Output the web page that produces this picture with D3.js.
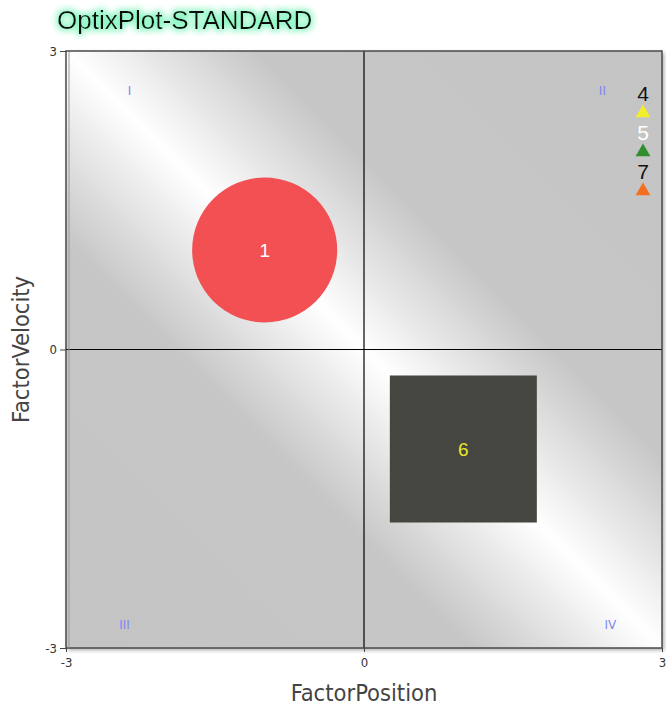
<!DOCTYPE html>
<html>
<head>
<meta charset="UTF-8">
<title>OptixPlot-STANDARD</title>
<script src="https://cdnjs.cloudflare.com/ajax/libs/d3/7.8.5/d3.min.js"></script>
<style>
  body { margin: 0; background: #fff; }
  svg { display: block; }
</style>
</head>
<body>
<svg id="chart" width="666" height="707"></svg>
<script>
// axis domain and ticks
var xDomain = [-3, 3];
var yDomain = [-3, 3];
var xTicks = [-3, 0, 3];
var yTicks = [-3, 0, 3];

// quadrant labels, placed at data coordinates
var quadNames = ["I", "II", "III", "IV"];
var quadX = [-2.36, 2.4, -2.41, 2.48];
var quadY = [2.56, 2.56, -2.81, -2.81];

// bubbles inside the plot
var bubbleIds = ["1", "6"];
var bubbleX = [-1.0, 1.0];
var bubbleY = [1.0, -1.0];
var bubbleSize = [0.73, 0.74];   // radius / half side, in data units
var bubbleShape = ["circle", "square"];
var bubbleColor = ["#f24a4c", "#45463f"];
var bubbleLabelColor = ["#ffffff", "#e8e82a"];

// items that fall off the right edge
var offIds = ["4", "5", "7"];
var offColor = ["#f2ee2c", "#2f8f2f", "#f27020"];
var offLabelColor = ["#111111", "#ffffff", "#111111"];

var svg = d3.select("#chart");
var margin = {left: 66, top: 51, right: 4, bottom: 59};
var W = 666 - margin.left - margin.right;
var H = 707 - margin.top - margin.bottom;

var x = d3.scaleLinear().domain(xDomain).range([0, W]);
var y = d3.scaleLinear().domain(yDomain).range([H, 0]);

var defs = svg.append("defs");

// diagonal white band background
var grad = defs.append("linearGradient")
    .attr("id", "bg").attr("gradientUnits", "objectBoundingBox")
    .attr("x1", 1).attr("y1", 0).attr("x2", 0).attr("y2", 1);
[[0, "#c4c4c4"], [0.34, "#c6c6c6"], [0.5, "#ffffff"], [0.66, "#c6c6c6"], [1, "#c4c4c4"]]
    .forEach(function(s) { grad.append("stop").attr("offset", s[0]).attr("stop-color", s[1]); });

var glow = defs.append("filter").attr("id", "glow")
    .attr("x", "-20%").attr("y", "-60%").attr("width", "140%").attr("height", "220%");
glow.append("feMorphology").attr("in", "SourceAlpha").attr("operator", "dilate").attr("radius", 2).attr("result", "d");
glow.append("feGaussianBlur").attr("in", "d").attr("stdDeviation", 3).attr("result", "b");
glow.append("feFlood").attr("flood-color", "#8ef7c4");
glow.append("feComposite").attr("in2", "b").attr("operator", "in").attr("result", "g");
var gm = glow.append("feMerge");
gm.append("feMergeNode").attr("in", "g");
gm.append("feMergeNode").attr("in", "SourceGraphic");

var shadow = defs.append("filter").attr("id", "shadow")
    .attr("x", "-5%").attr("y", "-5%").attr("width", "110%").attr("height", "110%");
shadow.append("feDropShadow").attr("dx", 2).attr("dy", 2).attr("stdDeviation", 2)
    .attr("flood-color", "#000").attr("flood-opacity", 0.35);

defs.append("clipPath").attr("id", "clip")
    .append("rect").attr("width", W).attr("height", H);

// title
svg.append("text")
    .attr("x", 57).attr("y", 29)
    .attr("font-family", "Liberation Sans, Arial, sans-serif")
    .attr("font-size", 26).attr("fill", "#111")
    .attr("filter", "url(#glow)")
    .text("OptixPlot-STANDARD");

var g = svg.append("g").attr("transform", "translate(" + margin.left + "," + margin.top + ")");

g.append("rect").attr("width", W).attr("height", H)
    .attr("fill", "url(#bg)").attr("filter", "url(#shadow)");

var plot = g.append("g").attr("clip-path", "url(#clip)");

// zero lines
plot.append("line").attr("x1", x(0)).attr("x2", x(0)).attr("y1", 0).attr("y2", H)
    .attr("stroke", "#000").attr("stroke-width", 1.2);
plot.append("line").attr("x1", 0).attr("x2", W).attr("y1", y(0)).attr("y2", y(0))
    .attr("stroke", "#000").attr("stroke-width", 1.2);

// quadrant labels
quadNames.forEach(function(q, i) {
    plot.append("text")
        .attr("x", x(quadX[i])).attr("y", y(quadY[i]))
        .attr("text-anchor", "middle")
        .attr("font-family", "DejaVu Sans, Verdana, sans-serif")
        .attr("font-size", 12).attr("fill", "#7f86f2")
        .text(q);
});

// bubbles
bubbleIds.forEach(function(id, i) {
    var cx = x(bubbleX[i]), cy = y(bubbleY[i]);
    var r = x(bubbleSize[i]) - x(0);
    if (bubbleShape[i] === "circle") {
        plot.append("circle").attr("cx", cx).attr("cy", cy).attr("r", r)
            .attr("fill", bubbleColor[i]).attr("fill-opacity", 0.97);
    } else {
        plot.append("rect").attr("x", cx - r).attr("y", cy - r)
            .attr("width", 2 * r).attr("height", 2 * r)
            .attr("fill", bubbleColor[i]);
    }
    plot.append("text").attr("x", cx).attr("y", cy + 7)
        .attr("text-anchor", "middle")
        .attr("font-family", "Liberation Sans, Arial, sans-serif")
        .attr("font-size", 19).attr("fill", bubbleLabelColor[i])
        .text(id);
});

// off-scale markers stacked at the right edge
var off = g.append("g").attr("transform", "translate(" + (W - 19) + ",0)");
offIds.forEach(function(id, i) {
    var top = 34 + i * 39;
    off.append("text").attr("x", 0).attr("y", top + 16)
        .attr("text-anchor", "middle")
        .attr("font-family", "Liberation Sans, Arial, sans-serif")
        .attr("font-size", 21).attr("fill", offLabelColor[i])
        .text(id);
    off.append("path")
        .attr("d", d3.symbol().type(d3.symbolTriangle).size(95)())
        .attr("transform", "translate(0," + (top + 28) + ")")
        .attr("fill", offColor[i]);
});

// frame
g.append("rect").attr("width", W).attr("height", H)
    .attr("fill", "none").attr("stroke", "#4a4a4a").attr("stroke-width", 1.5);
g.append("line").attr("x1", 3).attr("x2", 3).attr("y1", 1).attr("y2", H)
    .attr("stroke", "#999").attr("stroke-width", 1);

// axes
var xAxis = g.append("g").attr("transform", "translate(0," + H + ")")
    .call(d3.axisBottom(x).tickValues(xTicks).tickSize(4).tickFormat(function(d) { return String(d); }));
var yAxis = g.append("g")
    .call(d3.axisLeft(y).tickValues(yTicks).tickSize(6).tickFormat(function(d) { return String(d); }));
[xAxis, yAxis].forEach(function(a) {
    a.select(".domain").remove();
    a.selectAll("line").attr("stroke", "#444");
    a.selectAll("text").attr("font-family", "DejaVu Sans Condensed, DejaVu Sans, sans-serif")
        .attr("font-size", 13).attr("fill", "#333");
});
xAxis.selectAll("text").attr("dy", "0.9em");

svg.append("text")
    .attr("x", margin.left + x(0)).attr("y", 701)
    .attr("text-anchor", "middle")
    .attr("font-family", "DejaVu Sans Condensed, DejaVu Sans, sans-serif")
    .attr("font-size", 23.5).attr("fill", "#444")
    .text("FactorPosition");

svg.append("text")
    .attr("transform", "translate(29," + (margin.top + y(0)) + ") rotate(-90)")
    .attr("text-anchor", "middle")
    .attr("font-family", "DejaVu Sans Condensed, DejaVu Sans, sans-serif")
    .attr("font-size", 23.5).attr("fill", "#444")
    .text("FactorVelocity");
</script>
</body>
</html>
